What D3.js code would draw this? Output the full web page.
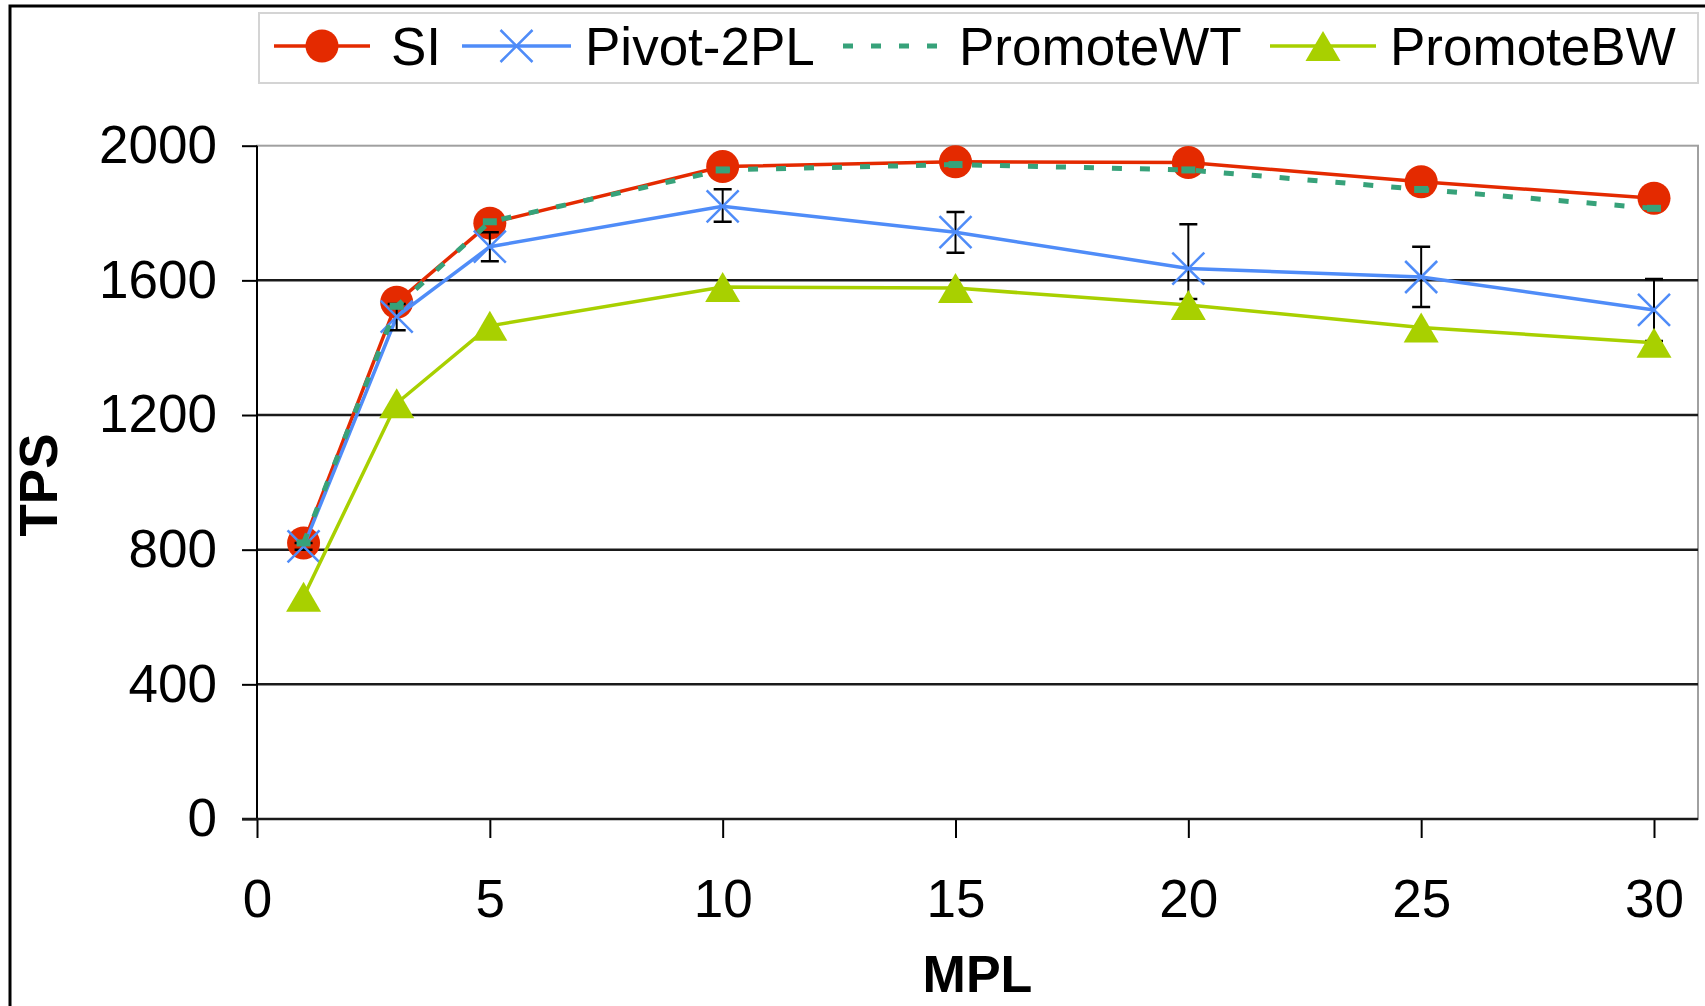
<!DOCTYPE html>
<html>
<head>
<meta charset="utf-8">
<script src="https://cdn.jsdelivr.net/npm/d3@7"></script>
<style>
body { margin: 0; background: #fff; }
text { font-family: "Liberation Sans", Arial, sans-serif; }
</style>
</head>
<body>
<script>

var mpl = [1, 3, 5, 10, 15, 20, 25, 30]
var si = [820, 1535, 1770, 1938, 1952, 1950, 1893, 1844]
var pivot = [810, 1492, 1700, 1820, 1743, 1635, 1610, 1512]
var pivotLo = [800, 1452, 1657, 1774, 1682, 1545, 1521, 1420]
var pivotHi = [820, 1530, 1743, 1871, 1803, 1767, 1700, 1604]
var promoteWT = [820, 1523, 1774, 1928, 1944, 1928, 1870, 1814]
var promoteBW = [660, 1235, 1465, 1580, 1577, 1527, 1460, 1415]
var names = ["SI", "Pivot-2PL", "PromoteWT", "PromoteBW"]
var yTicks = [0, 400, 800, 1200, 1600, 2000]
var xTicks = [0, 5, 10, 15, 20, 25, 30]

var w = 1705
var h = 1006
var plot = {left: 257, right: 1698, top: 145.7, bottom: 819}

var xScale = d3.scaleLinear().domain([0, 30]).range([plot.left, 1654])
var yScale = d3.scaleLinear().domain([0, 2000]).range([plot.bottom, plot.top])

var series = [
  {name: names[0], values: si, color: "#e42a00", marker: "circle", width: 3.5},
  {name: names[1], values: pivot, lo: pivotLo, hi: pivotHi, color: "#4f8cf8", marker: "x", width: 3.5},
  {name: names[2], values: promoteWT, color: "#37a27a", marker: "dash", width: 5, dash: "10,18"},
  {name: names[3], values: promoteBW, color: "#a8d000", marker: "triangle", width: 3.5}
]

var svg = d3.select("body").append("svg")
  .attr("width", w)
  .attr("height", h)

// outer frame (only top and left edges show)
svg.append("path")
  .attr("d", "M10," + (h + 5) + "L10,6L" + (w + 5) + ",6")
  .attr("fill", "none")
  .attr("stroke", "#000")
  .attr("stroke-width", 3)

// plot area border (grey top/right)
svg.append("rect")
  .attr("x", plot.left)
  .attr("y", plot.top)
  .attr("width", plot.right - plot.left)
  .attr("height", plot.bottom - plot.top)
  .attr("fill", "#fff")
  .attr("stroke", "#a0a0a0")
  .attr("stroke-width", 2)

// gridlines
svg.append("g")
  .selectAll("line")
  .data(yTicks.filter(d => d > 0 && d < 2000))
  .enter().append("line")
  .attr("x1", plot.left)
  .attr("x2", plot.right)
  .attr("y1", d => yScale(d))
  .attr("y2", d => yScale(d))
  .attr("stroke", "#1a1a1a")
  .attr("stroke-width", 2.5)

// axes
var yAxis = d3.axisLeft(yScale).tickValues(yTicks).tickFormat(d3.format("d")).tickSize(15).tickPadding(25)
var xAxis = d3.axisBottom(xScale).tickValues(xTicks).tickFormat(d3.format("d")).tickSize(19).tickPadding(41)

var gy = svg.append("g")
  .attr("transform", "translate(" + plot.left + ",0)")
  .call(yAxis)
var gx = svg.append("g")
  .attr("transform", "translate(0," + plot.bottom + ")")
  .call(xAxis)

;[gx, gy].forEach(function(g) {
  g.select(".domain").remove()
  g.selectAll(".tick line").attr("stroke", "#000").attr("stroke-width", 2)
  g.selectAll(".tick text")
    .attr("fill", "#000")
    .style("font-size", "53px")
    .style("font-family", "'Liberation Sans', Arial, sans-serif")
})

svg.append("line")
  .attr("x1", plot.left).attr("x2", plot.left)
  .attr("y1", plot.top).attr("y2", plot.bottom + 1)
  .attr("stroke", "#000").attr("stroke-width", 2)
svg.append("line")
  .attr("x1", plot.left - 15).attr("x2", plot.right)
  .attr("y1", plot.bottom).attr("y2", plot.bottom)
  .attr("stroke", "#1a1a1a").attr("stroke-width", 2.5)

// axis titles
svg.append("text")
  .attr("transform", "translate(38,485) rotate(-90)")
  .attr("text-anchor", "middle")
  .attr("dy", "0.36em")
  .style("font-size", "53px")
  .style("font-weight", "bold")
  .text("TPS")

svg.append("text")
  .attr("x", (plot.left + plot.right) / 2)
  .attr("y", 992)
  .attr("text-anchor", "middle")
  .style("font-size", "52px")
  .style("font-weight", "bold")
  .text("MPL")

function drawMarker(g, type, color) {
  if (type == "circle") {
    g.append("circle").attr("r", 16.5).attr("fill", color)
  } else if (type == "x") {
    g.append("path")
      .attr("d", "M-16,-16L16,16M-16,16L16,-16")
      .attr("stroke", color)
      .attr("stroke-width", 2.5)
      .attr("fill", "none")
  } else if (type == "dash") {
    g.append("rect")
      .attr("x", -7).attr("y", -3.5)
      .attr("width", 14).attr("height", 7)
      .attr("fill", color)
  } else if (type == "triangle") {
    g.append("path")
      .attr("d", "M0,-15L17.5,15L-17.5,15Z")
      .attr("fill", color)
  }
}

var line = d3.line()
  .x(d => xScale(d[0]))
  .y(d => yScale(d[1]))

series.forEach(function(s) {
  var pts = mpl.map((m, i) => [m, s.values[i]])
  var g = svg.append("g").attr("class", "series")

  g.append("path")
    .attr("d", line(pts))
    .attr("fill", "none")
    .attr("stroke", s.color)
    .attr("stroke-width", s.width)
    .attr("stroke-dasharray", s.dash || null)

  if (s.lo) {
    var eb = g.append("g").selectAll("g")
      .data(mpl.map((m, i) => ({m: m, lo: s.lo[i], hi: s.hi[i]})))
      .enter().append("g")
    eb.append("line")
      .attr("x1", d => xScale(d.m)).attr("x2", d => xScale(d.m))
      .attr("y1", d => yScale(d.lo)).attr("y2", d => yScale(d.hi))
      .attr("stroke", "#000").attr("stroke-width", 2)
    eb.append("path")
      .attr("d", d => "M" + (xScale(d.m) - 9) + "," + yScale(d.lo) + "h18" +
                      "M" + (xScale(d.m) - 9) + "," + yScale(d.hi) + "h18")
      .attr("stroke", "#000").attr("stroke-width", 2.5)
  }

  pts.forEach(function(p) {
    var mg = g.append("g").attr("transform", "translate(" + xScale(p[0]) + "," + yScale(p[1]) + ")")
    drawMarker(mg, s.marker, s.color)
  })
})

// legend
var legend = svg.append("g")
legend.append("rect")
  .attr("x", 259).attr("y", 13)
  .attr("width", 1439).attr("height", 70)
  .attr("fill", "#fff")
  .attr("stroke", "#d4d4d4")
  .attr("stroke-width", 2)

var legendPos = [
  {x1: 274, x2: 370, text: 391},
  {x1: 462, x2: 571, text: 585},
  {x1: 843, x2: 940, text: 959},
  {x1: 1270, x2: 1376, text: 1390}
]

series.forEach(function(s, i) {
  var p = legendPos[i]
  var lg = legend.append("g")
  lg.append("line")
    .attr("x1", p.x1).attr("x2", p.x2)
    .attr("y1", 46).attr("y2", 46)
    .attr("stroke", s.color)
    .attr("stroke-width", s.width)
    .attr("stroke-dasharray", s.dash || null)
  if (s.marker != "dash") {
    var mg = lg.append("g").attr("transform", "translate(" + ((p.x1 + p.x2) / 2) + ",46)")
    drawMarker(mg, s.marker, s.color)
  }
  lg.append("text")
    .attr("x", p.text)
    .attr("y", 65)
    .style("font-size", "53px")
    .text(s.name)
})

</script>
</body>
</html>
